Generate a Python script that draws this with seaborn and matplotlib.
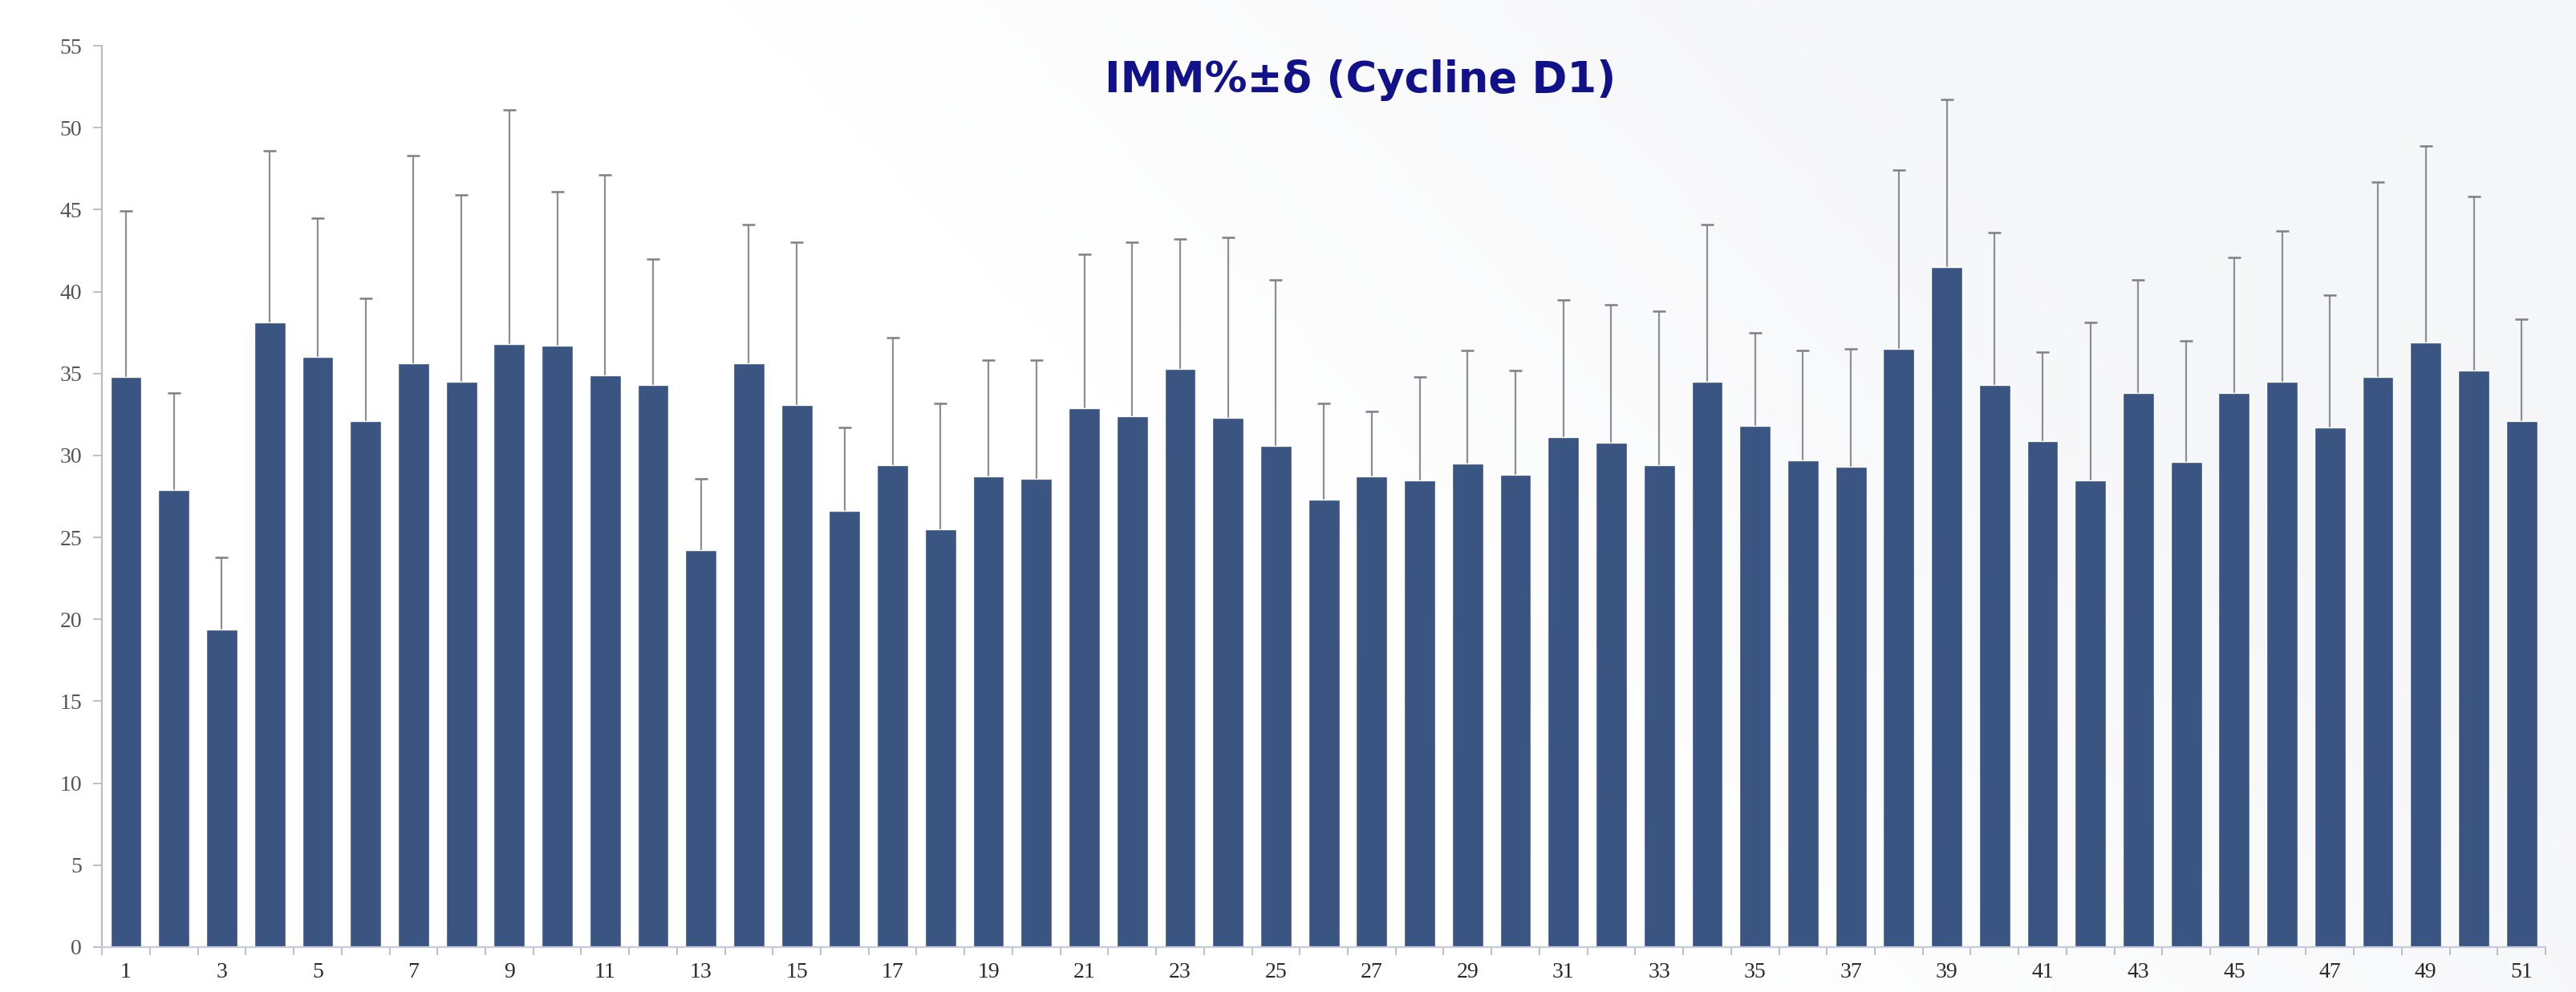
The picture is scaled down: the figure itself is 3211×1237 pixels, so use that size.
import numpy as np
import pandas as pd
import seaborn as sns
from matplotlib import pyplot as plt
from matplotlib.ticker import FixedLocator
from matplotlib.colors import LinearSegmentedColormap

# sample numbers 1..51, mean IMM% and sd
samples = list(range(1, 52))
imm_mean = [34.8, 27.9, 19.4, 38.1, 36.0, 32.1, 35.6, 34.5, 36.8, 36.7,
            34.9, 34.3, 24.2, 35.6, 33.1, 26.6, 29.4, 25.5, 28.7, 28.6,
            32.9, 32.4, 35.3, 32.3, 30.6, 27.3, 28.7, 28.5, 29.5, 28.8,
            31.1, 30.8, 29.4, 34.5, 31.8, 29.7, 29.3, 36.5, 41.5, 34.3,
            30.9, 28.5, 33.8, 29.6, 33.8, 34.5, 31.7, 34.8, 36.9, 35.2,
            32.1]
imm_sd = [10.1, 5.9, 4.4, 10.5, 8.5, 7.5, 12.7, 11.4, 14.3, 9.4,
          12.2, 7.7, 4.4, 8.5, 9.9, 5.1, 7.8, 7.7, 7.1, 7.2,
          9.4, 10.6, 7.9, 11.0, 10.1, 5.9, 4.0, 6.3, 6.9, 6.4,
          8.4, 8.4, 9.4, 9.6, 5.7, 6.7, 7.2, 10.9, 10.2, 9.3,
          5.4, 9.6, 6.9, 7.4, 8.3, 9.2, 8.1, 11.9, 12.0, 10.6,
          6.2]
title = "IMM%±δ (Cycline D1)"

df = pd.DataFrame({"sample": samples, "mean": imm_mean, "sd": imm_sd})
df["top"] = df["mean"] + df["sd"]

sns.set_style("white")
fig = plt.figure(figsize=(32.11, 12.37), dpi=100)

# faint slide background, slightly grey towards the top right only
bg = fig.add_axes([0, 0, 1, 1], zorder=-10)
gx = np.linspace(0, 1, 300)
gy = np.linspace(1, 0, 120)
grad = np.clip((gx[None, :] - 0.5) * 2.2 + (gy[:, None] - 0.4) * 0.8, 0, 1)
cmap = LinearSegmentedColormap.from_list("slide", ["#ffffff", "#f5f6f8"])
bg.imshow(grad, cmap=cmap, vmin=0, vmax=1, aspect="auto", extent=[0, 1, 0, 1])
bg.axis("off")

ax = fig.add_axes([0.0396, 0.0453, 0.9486, 0.9086])
ax.patch.set_alpha(0)

sns.barplot(data=df, x="sample", y="mean", color="#3b5583", saturation=1,
            width=0.65, errorbar=None, ax=ax, zorder=2)
pos = np.arange(len(samples))
# upper half of the error bar only, cap at the top
ax.errorbar(pos, df["mean"], yerr=[np.zeros(len(samples)), df["sd"]],
            fmt="none", ecolor="#8e8e96", elinewidth=1.6, capsize=0, zorder=1)
ax.plot(pos, df["top"], ls="none", marker="_", markersize=12,
        markeredgewidth=1.8, color="#7e7e88", zorder=3)

ax.set_xlim(-0.5, len(samples) - 0.5)
ax.set_ylim(0, 55)
ax.set_yticks(range(0, 56, 5))
ax.set_xticks(pos[::2])
ax.set_xticklabels([str(s) for s in samples[::2]])
ax.xaxis.set_minor_locator(FixedLocator(np.arange(-0.5, len(samples), 1.0)))
ax.tick_params(axis="x", which="major", length=0, pad=14, labelsize=20,
               labelcolor="#2a2a2a")
ax.tick_params(axis="x", which="minor", length=7, width=1.2, color="#b0b4bc",
               direction="out", bottom=True)
ax.tick_params(axis="y", length=8, width=1.2, color="#b0b4bc", pad=10,
               labelsize=20, labelcolor="#555555", left=True)
for lab in ax.get_xticklabels() + ax.get_yticklabels():
    lab.set_family("Liberation Serif")

ax.set_xlabel("")
ax.set_ylabel("")
for side in ["top", "right"]:
    ax.spines[side].set_visible(False)
ax.spines["left"].set_color("#b8bcc4")
ax.spines["left"].set_linewidth(1.6)
ax.spines["bottom"].set_color("#c4cbe0")
ax.spines["bottom"].set_linewidth(1.6)

fig.text(0.528, 0.919, title, ha="center", va="center", fontsize=38,
         fontweight="bold", color="#11118a", family=["DejaVu Sans"])

fig.savefig("out.png", dpi=100)
